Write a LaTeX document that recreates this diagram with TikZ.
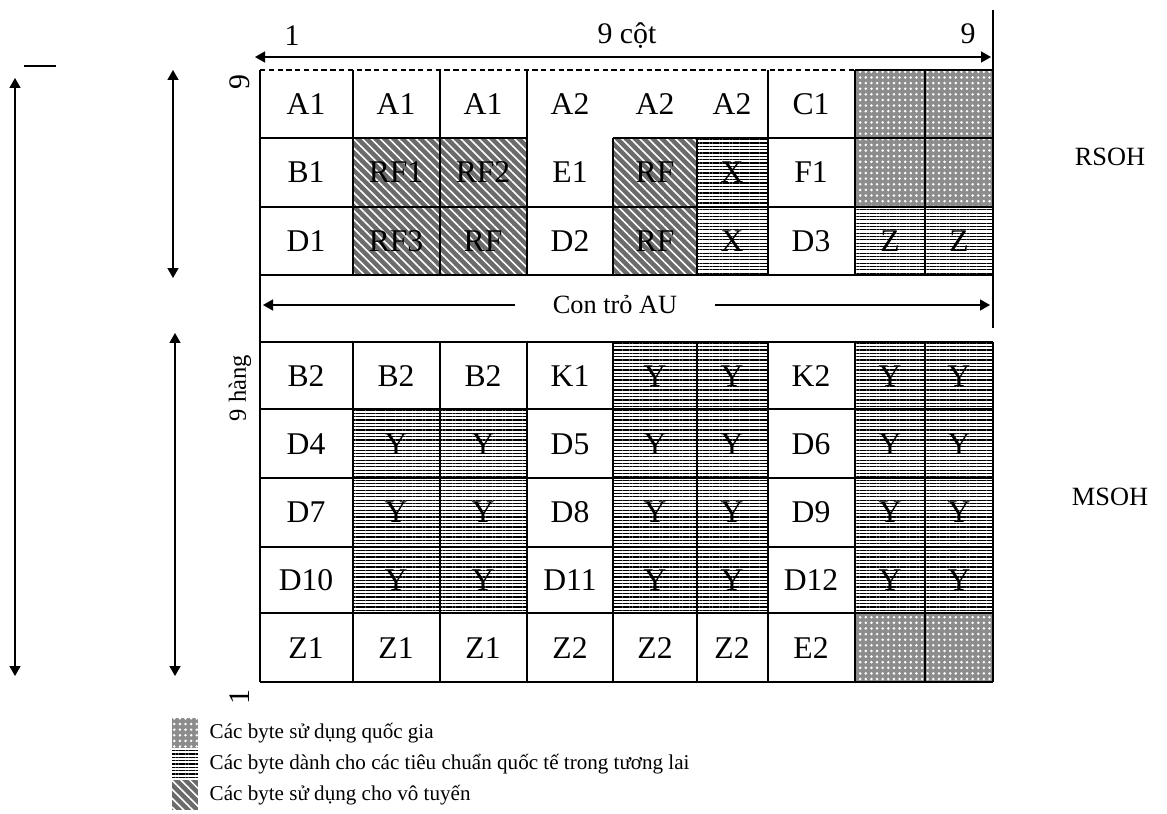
\documentclass[tikz,border=0pt]{standalone}
\usepackage{fontspec}
\setmainfont{Liberation Serif}
\usetikzlibrary{arrows.meta, patterns.meta, positioning}

\begin{document}
\begin{tikzpicture}[x=0.02cm,y=-0.02cm,
    gridline/.style={line width=0.9pt},
    dimarrow/.style={line width=0.9pt,{Triangle[length=2mm,width=2.2mm]}-{Triangle[length=2mm,width=2.2mm]}},
    onearrow/.style={line width=0.9pt,-{Triangle[length=2mm,width=2.2mm]}},
    cell/.style={font=\fontsize{18}{20}\selectfont,inner sep=0pt},
    toplabel/.style={font=\fontsize{17}{19}\selectfont,inner sep=0pt},
    sidelabel/.style={font=\fontsize{15}{17}\selectfont,inner sep=0pt},
    legendtext/.style={font=\fontsize{12}{14}\selectfont,inner sep=0pt,anchor=west},
    national/.style={fill=black!45,postaction={pattern={Dots[distance=3.2pt,radius=0.8pt]},pattern color=white}},
    radio/.style={fill=black!58,postaction={pattern={Lines[angle=-45,distance=3.6pt,line width=0.9pt]},pattern color=white}},
    intl/.style={pattern={Lines[angle=0,distance=1.9pt,line width=0.7pt]}},
    swatch/.style={minimum width=0.52cm,minimum height=0.6cm,inner sep=0pt}]
\useasboundingbox (0,0) rectangle (1167,814);
%
\path[radio] (353,138) rectangle (527,275);
\path[radio] (613,138) rectangle (697,275);
\path[national] (855,70) rectangle (993,207);
\path[national] (855,613) rectangle (993,682);
\path[intl] (697,138) rectangle (768,275);
\path[intl] (855,207) rectangle (993,275);
\path[intl] (353,409) rectangle (527,613);
\path[intl] (613,342) rectangle (768,613);
\path[intl] (855,342) rectangle (993,613);
%
\draw[gridline,densely dashed] (260,70) -- (855,70);
\draw[gridline] (855,70) -- (993,70);
\draw[gridline] (260,138) -- (527,138) (613,138) -- (993,138);
\foreach \y in {207,275,342,409,478,547,613,682}
    \draw[gridline] (260,\y) -- (993,\y);
\draw[gridline] (260,70) -- (260,682);
\foreach \x in {353,440,527,768,855,925}
    \draw[gridline] (\x,70) -- (\x,275);
\foreach \x in {613,697}
    \draw[gridline] (\x,138) -- (\x,275);
\foreach \x in {353,440,527,613,697,768,855,925,993}
    \draw[gridline] (\x,342) -- (\x,682);
\draw[gridline] (993,10) -- (993,328);
%
\def\colx{{306,396,483,570,655,732,811,890,959}}
\foreach \lab [count=\i] in {A1,A1,A1,A2,A2,A2,C1}{
    \pgfmathsetmacro\cx{\colx[\i-1]}
    \node[cell] (ra\i) at (\cx,104) {\lab};}
\foreach \lab [count=\i] in {B1,RF1,RF2,E1,RF,X,F1}{
    \pgfmathsetmacro\cx{\colx[\i-1]}
    \node[cell] (rb\i) at (\cx,172) {\lab};}
\foreach \lab [count=\i] in {D1,RF3,RF,D2,RF,X,D3,Z,Z}{
    \pgfmathsetmacro\cx{\colx[\i-1]}
    \node[cell] (rc\i) at (\cx,241) {\lab};}
\foreach \lab [count=\i] in {B2,B2,B2,K1,Y,Y,K2,Y,Y}{
    \pgfmathsetmacro\cx{\colx[\i-1]}
    \node[cell] (rd\i) at (\cx,376) {\lab};}
\foreach \lab [count=\i] in {D4,Y,Y,D5,Y,Y,D6,Y,Y}{
    \pgfmathsetmacro\cx{\colx[\i-1]}
    \node[cell] (re\i) at (\cx,444) {\lab};}
\foreach \lab [count=\i] in {D7,Y,Y,D8,Y,Y,D9,Y,Y}{
    \pgfmathsetmacro\cx{\colx[\i-1]}
    \node[cell] (rf\i) at (\cx,512) {\lab};}
\foreach \lab [count=\i] in {D10,Y,Y,D11,Y,Y,D12,Y,Y}{
    \pgfmathsetmacro\cx{\colx[\i-1]}
    \node[cell] (rg\i) at (\cx,580) {\lab};}
\foreach \lab [count=\i] in {Z1,Z1,Z1,Z2,Z2,Z2,E2}{
    \pgfmathsetmacro\cx{\colx[\i-1]}
    \node[cell] (rh\i) at (\cx,648) {\lab};}
%
\node[sidelabel,fill=white,inner xsep=0.75cm] (au) at (615,305) {Con trỏ AU};
\coordinate (auL) at (263,305);
\coordinate (auR) at (990,305);
\draw[onearrow] (au) -- (auL);
\draw[onearrow] (au) -- (auR);
%
\coordinate (colL) at (255,57);
\coordinate (colR) at (991,57);
\draw[dimarrow] (colL) -- (colR);
\node[toplabel] (one) at (292,36) {1};
\node[toplabel] (ncot) at (627,36) {9 cột};
\node[toplabel] (nine) at (968,34) {9};
%
\node[toplabel,rotate=90] (topnine) at (240,82) {9};
\node[font=\fontsize{14}{16}\selectfont,inner sep=0pt,rotate=90] (nhang) at (240,388) {9 hàng};
\node[toplabel,rotate=90] (botone) at (240,697) {1};
%
\coordinate (rsT) at (173,70);
\coordinate (rsB) at (173,278);
\coordinate (msT) at (175,333);
\coordinate (msB) at (175,676);
\coordinate (allT) at (15,78);
\coordinate (allB) at (15,676);
\draw[dimarrow] (rsT) -- (rsB);
\draw[dimarrow] (msT) -- (msB);
\draw[dimarrow] (allT) -- (allB);
\draw[line width=0.9pt] (24,66) -- (56,66);
%
\node[sidelabel] (rsoh) at (1110,157) {RSOH};
\node[sidelabel] (msoh) at (1110,497) {MSOH};
%
\node[swatch,national] (sw1) at (185,733) {};
\node[swatch,intl] (sw2) at (185,764) {};
\node[swatch,radio] (sw3) at (185,795) {};
\node[legendtext,right=0.22cm of sw1.east] (lg1) {Các byte sử dụng quốc gia};
\node[legendtext,right=0.22cm of sw2.east] (lg2) {Các byte dành cho các tiêu chuẩn quốc tế trong tương lai};
\node[legendtext,right=0.22cm of sw3.east] (lg3) {Các byte sử dụng cho vô tuyến};
\end{tikzpicture}
\end{document}
